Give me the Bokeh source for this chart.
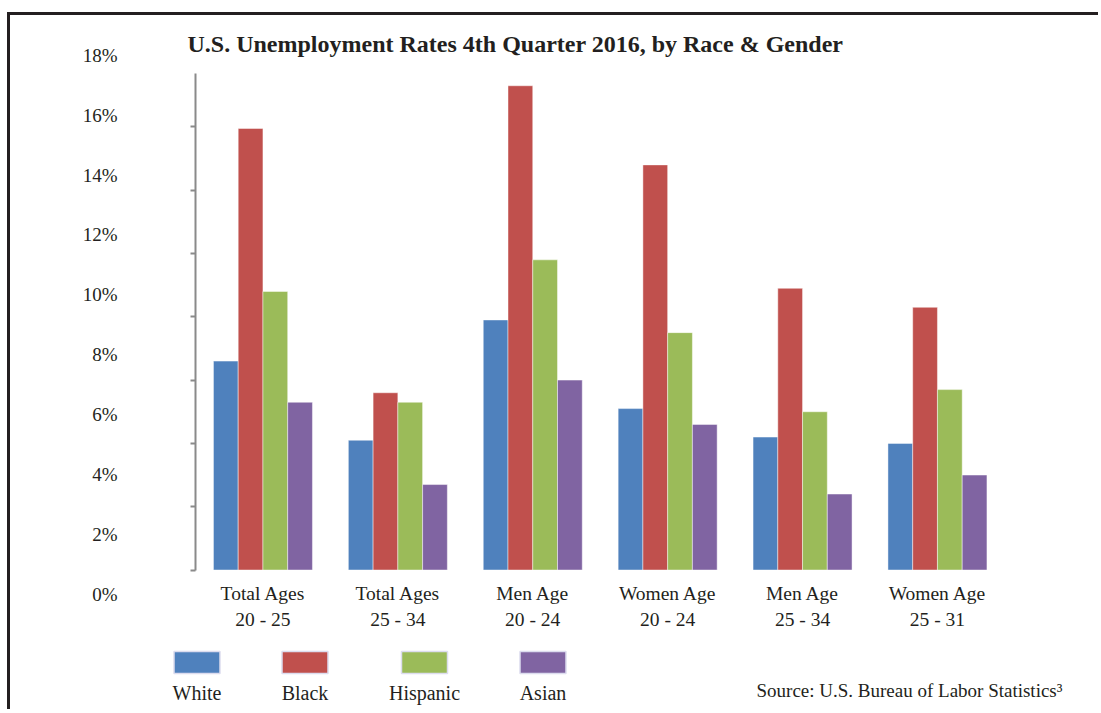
from bokeh.plotting import figure
from bokeh.models import Range1d, LinearAxis, FixedTicker
from bokeh.embed import file_html
from bokeh.resources import INLINE
from bokeh.core.properties import value

# ---------------- data ----------------
categories = ["Total Ages\n20 - 25", "Total Ages\n25 - 34", "Men Age\n20 - 24",
              "Women Age\n20 - 24", "Men Age\n25 - 34", "Women Age\n25 - 31"]
series = ["White", "Black", "Hispanic", "Asian"]
white = [6.6, 4.1, 7.9, 5.1, 4.2, 4.0]
black = [13.95, 5.6, 15.3, 12.8, 8.9, 8.3]
hispanic = [8.8, 5.3, 9.8, 7.5, 5.0, 5.7]
asian = [5.3, 2.7, 6.0, 4.6, 2.4, 3.0]
colors = ["#4f81bd", "#c0504d", "#9bbb59", "#8064a2"]
tick_values = [0, 2, 4, 6, 8, 10, 12, 14]
label_values = [0, 2, 4, 6, 8, 10, 12, 14, 16, 18]
title = "U.S. Unemployment Rates 4th Quarter 2016, by Race & Gender"
source_note = "Source: U.S. Bureau of Labor Statistics\u00b3"

# ---------------- layout (page pixels) ----------------
OX, OY = 10, 15          # canvas origin on the page
W, H = 1091, 697
FRAME_LEFT = 150
AXIS_X = 195.0
BAND = 134.9
BASE_Y = 569.5
PX_UNIT = 31.65
AXIS_TOP = 73
LAB_ZERO = 593.5
LAB_PX = 29.92
BAR_PX = 24.75
FONT = "Liberation Serif"
TXT = "#231f20"


def xd(px):
    return (px - AXIS_X) / BAND


def yd(py):
    return (BASE_Y - py) / PX_UNIT


p = figure(width=W, height=H, output_backend="svg", toolbar_location=None,
           x_range=Range1d(xd(FRAME_LEFT), xd(OX + W)),
           y_range=Range1d(yd(OY + H), yd(OY)),
           x_axis_location=None, y_axis_location=None,
           min_border_left=FRAME_LEFT - OX, min_border_right=0,
           min_border_top=0, min_border_bottom=0)
p.grid.visible = False
p.outline_line_color = None
p.styles = {"border-top": "3px solid #231f20", "border-left": "3px solid #231f20",
            "margin-top": "12px", "margin-left": "7px"}

p.extra_y_ranges = {"lab": Range1d((LAB_ZERO - (OY + H)) / LAB_PX, (LAB_ZERO - OY) / LAB_PX)}

lab_axis = LinearAxis(y_range_name="lab", ticker=FixedTicker(ticks=label_values),
                      major_label_overrides={v: f"{v}%" for v in label_values},
                      axis_line_color=None, major_tick_line_color=None,
                      minor_tick_line_color=None, major_tick_out=0, major_tick_in=0,
                      major_label_standoff=33, major_label_text_font=FONT,
                      major_label_text_font_size="19px", major_label_text_color=TXT)
p.add_layout(lab_axis, "left")

tick_axis = LinearAxis(ticker=FixedTicker(ticks=tick_values), bounds=(0, yd(AXIS_TOP)),
                       fixed_location=0, axis_line_color="#8a8a8a", axis_line_width=2,
                       major_tick_line_color="#8a8a8a", major_tick_line_width=2,
                       major_tick_out=5, major_tick_in=0, minor_tick_line_color=None,
                       major_label_overrides={v: "" for v in tick_values},
                       major_label_standoff=0)
p.add_layout(tick_axis, "left")

bw = BAR_PX / BAND
for j, (vals, col) in enumerate(zip([white, black, hispanic, asian], colors)):
    xs = [i + 0.5 + (j - 1.5) * bw for i in range(len(categories))]
    p.vbar(x=xs, top=vals, bottom=0, width=bw, fill_color=col,
           line_color="white", line_alpha=0.45, line_width=1)

# category labels
p.text(x=[i + 0.5 for i in range(len(categories))], y=[0] * len(categories),
       text=categories, text_align="center", text_baseline="top", y_offset=13,
       text_font=value(FONT), text_font_size="19.5px", text_line_height=1.25,
       text_color=TXT)

# title
p.text(x=[xd(187)], y=[yd(43)], text=[title], text_align="left", text_baseline="middle",
       text_font=value(FONT), text_font_style="bold", text_font_size="24px",
       text_color=TXT)

# legend
legend_px = [196.5, 304.5, 424, 542.5]
p.rect(x=[xd(v) for v in legend_px], y=[yd(662)] * 4, width=46, height=22,
       width_units="screen", height_units="screen", fill_color=colors,
       line_color="#dcdcee", line_width=1.5)
p.text(x=[xd(v) for v in legend_px], y=[yd(692)] * 4, text=series,
       text_align="center", text_baseline="middle", text_font=value(FONT),
       text_font_size="20px", text_color=TXT)

# source
p.text(x=[xd(756)], y=[yd(690)], text=[source_note], text_align="left",
       text_baseline="middle", text_font=value(FONT), text_font_size="19px",
       text_color=TXT)

open("out.html", "w").write(file_html(p, INLINE))
